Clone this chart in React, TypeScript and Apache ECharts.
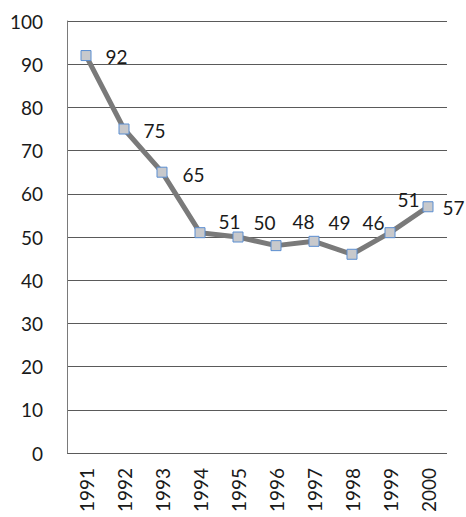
import React, { useEffect, useRef } from "react";
import * as echarts from "echarts";

const years = ["1991", "1992", "1993", "1994", "1995", "1996", "1997", "1998", "1999", "2000"];
const values = [92, 75, 65, 51, 50, 48, 49, 46, 51, 57];
const labelOffsets: [number, number][] = [
  [9, 1], [9, 1], [10, 2], [8, -11], [5, -15], [6, -24], [4, -19], [0, -32], [-3, -33], [4, 1],
];
const yMin = 0;
const yMax = 100;
const yInterval = 10;

const FONT = "Lato, 'Open Sans', sans-serif";

export default function App() {
  const ref = useRef<HTMLDivElement>(null);
  useEffect(() => {
    if (!ref.current) return;
    const chart = echarts.init(ref.current, undefined, { renderer: "svg" });
    chart.setOption({
      animation: false,
      backgroundColor: "#ffffff",
      textStyle: { fontFamily: FONT },
      grid: { left: 67, right: 19, top: 21, bottom: 64 },
      xAxis: {
        type: "category",
        data: years,
        boundaryGap: true,
        axisLine: { show: false },
        axisTick: { show: false },
        axisLabel: {
          rotate: 90,
          margin: 15,
          color: "#1a1a1a",
          fontSize: 19,
          fontFamily: FONT,
        },
        splitLine: { show: false },
      },
      yAxis: {
        type: "value",
        min: yMin,
        max: yMax,
        interval: yInterval,
        axisLine: { show: true, lineStyle: { color: "#7a7a7a", width: 1 } },
        axisTick: { show: false },
        axisLabel: { margin: 24, color: "#1a1a1a", fontSize: 19, fontFamily: FONT },
        splitLine: { show: true, lineStyle: { color: "#5a5a5a", width: 1 } },
      },
      series: [
        {
          type: "line",
          clip: false,
          data: values.map((v, i) => ({
            value: v,
            label: { offset: labelOffsets[i] },
          })),
          symbol: "rect",
          symbolSize: 10,
          lineStyle: { color: "#7a7a7a", width: 5 },
          itemStyle: { color: "#c8c9cc", borderColor: "#5b8ed1", borderWidth: 1 },
          label: {
            show: true,
            position: "right",
            distance: 5,
            color: "#1a1a1a",
            fontSize: 19,
            fontFamily: FONT,
          },
        },
      ],
    });
    return () => chart.dispose();
  }, []);
  return (
    <div
      ref={ref}
      style={{ position: "fixed", left: 0, top: 0, width: 466, height: 517 }}
    />
  );
}
